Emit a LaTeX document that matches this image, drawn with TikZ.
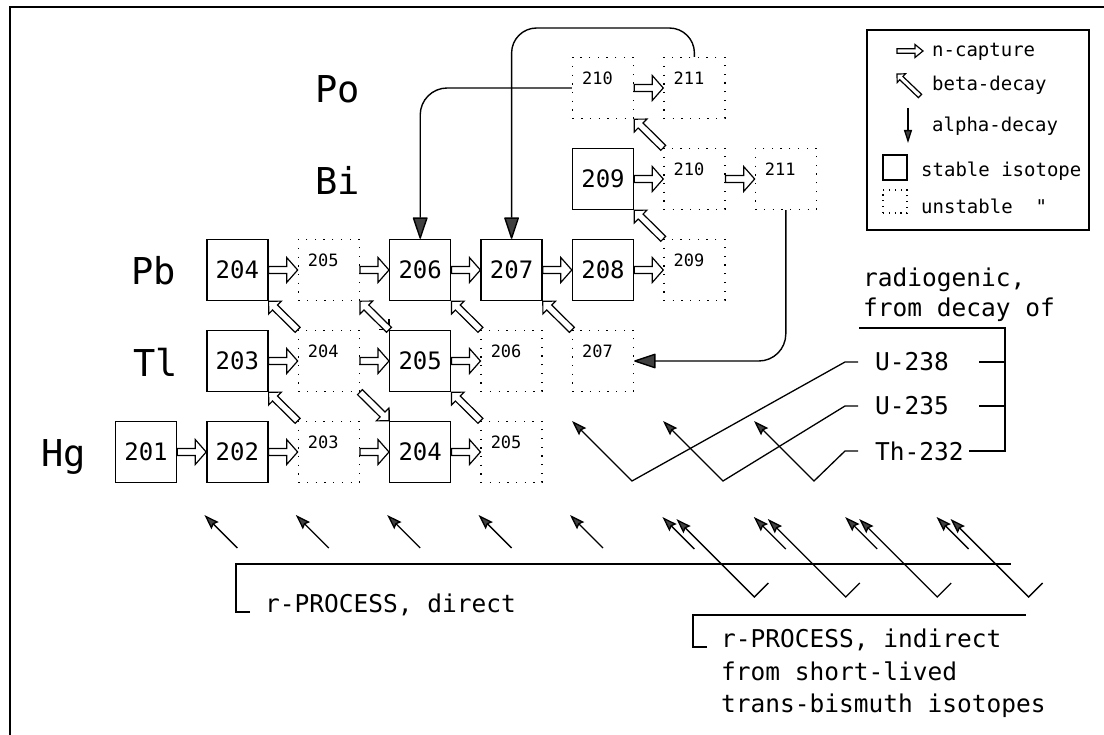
\documentclass[tikz,border=0pt]{standalone}
\usepackage{fontspec}
\newfontfamily\mono{DejaVu Sans Mono}
\usetikzlibrary{calc,arrows.meta}

\newcommand\blockarr[5]{%
  \path[barrow] let \p1=(#1), \p2=(#2),
    \n1={atan2(\y2-\y1,\x2-\x1)}, \n2={veclen(\x2-\x1,\y2-\y1)} in
    [shift={(\p1)}, rotate=\n1]
    (0,-#3) -- ({\n2-#5},-#3) -- ({\n2-#5},-#4) -- (\n2,0)
    -- ({\n2-#5},#4) -- ({\n2-#5},#3) -- (0,#3) -- cycle;}

\tikzset{
  sbox/.style={draw, line width=1.4pt, minimum size=61pt, inner sep=0pt,
    font=\mono\fontsize{24}{28}\selectfont},
  ubox/.style={draw, line width=1.3pt, dash pattern=on 1.3pt off 7.4pt,
    minimum size=61pt, inner sep=0pt},
  utxt/.style={font=\mono\fontsize{17}{20}\selectfont, inner sep=0pt},
  elem/.style={font=\mono\fontsize{37}{40}\selectfont, anchor=base west, inner sep=0pt},
  barrow/.style={draw, fill=white, line width=1.2pt, line join=miter},
  alph/.style={draw, line width=1.4pt, rounded corners=27pt,
    -{Triangle[length=23pt,width=15pt,fill=black!75,round=false]}},
  rarr/.style={draw, line width=1.3pt,
    -{Stealth[length=15pt,width=10pt,inset=2pt,fill=black!75]}},
  txt/.style={font=\mono\fontsize{24.5}{28}\selectfont, anchor=base west, inner sep=0pt},
  lab/.style={font=\mono\fontsize{24.5}{28}\selectfont, anchor=west, inner xsep=17pt, inner ysep=0pt},
  legtxt/.style={font=\mono\fontsize{19}{22}\selectfont, anchor=base west, inner sep=0pt},
  plain/.style={draw, line width=1.3pt},
}

\begin{document}
\begin{tikzpicture}[x=1pt,y=-1pt]
\useasboundingbox (0,0) rectangle (1104,735);
\fill[white] (0,0) rectangle (1104,735);
% frame
\draw[line width=1.4pt] (1104,7) -- (10,7) -- (10,735);

% element labels
\node[elem] (Po) at (315,103) {Po};
\node[elem] (Bi) at (315,195) {Bi};
\node[elem] (Pb) at (131,285) {Pb};
\node[elem] (Tl) at (133,377) {Tl};
\node[elem] (Hg) at (41,467) {Hg};

% Hg row
\node[sbox] (Hg201) at (146,452) {201};
\node[sbox] (Hg202) at (237.4,452) {202};
\node[ubox] (Hg203) at (328.8,452) {};
\node[sbox] (Hg204) at (420.2,452) {204};
\node[ubox] (Hg205) at (511.6,452) {};
% Tl row
\node[sbox] (Tl203) at (237.4,361) {203};
\node[ubox] (Tl204) at (328.8,361) {};
\node[sbox] (Tl205) at (420.2,361) {205};
\node[ubox] (Tl206) at (511.6,361) {};
\node[ubox] (Tl207) at (603,361) {};
% Pb row
\node[sbox] (Pb204) at (237.4,270) {204};
\node[ubox] (Pb205) at (328.8,270) {};
\node[sbox] (Pb206) at (420.2,270) {206};
\node[sbox] (Pb207) at (511.6,270) {207};
\node[sbox] (Pb208) at (603,270) {208};
\node[ubox] (Pb209) at (694.4,270) {};
% Bi row
\node[sbox] (Bi209) at (603,179) {209};
\node[ubox] (Bi210) at (694.4,179) {};
\node[ubox] (Bi211) at (785.8,179) {};
% Po row
\node[ubox] (Po210) at (603,88) {};
\node[ubox] (Po211) at (694.4,88) {};

% overshooting corner edges
\draw[plain] (Tl205.north west) -- ++(-10,0);
\draw[plain] (Tl205.north west) -- ++(0,-11);
\draw[plain] (Hg204.north west) -- ++(-10,0);
\draw[plain] (Hg204.north west) -- ++(0,-11);

% unstable labels
\foreach \n/\t in {Hg203/203,Hg205/205,Tl204/204,Tl206/206,Tl207/207,
  Pb205/205,Pb209/209,Bi210/210,Bi211/211,Po210/210,Po211/211}
  {\node[utxt] (\n t) at ($(\n)+(-5.5,-10)$) {\t};}

% n-capture arrows
\foreach \a/\b in {Hg201/Hg202,Hg202/Hg203,Hg203/Hg204,Hg204/Hg205,
  Tl203/Tl204,Tl204/Tl205,Tl205/Tl206,
  Pb204/Pb205,Pb205/Pb206,Pb206/Pb207,Pb207/Pb208,Pb208/Pb209,
  Bi209/Bi210,Bi210/Bi211,Po210/Po211}
  {\blockarr{\a.east}{\b.west}{3.5}{12.5}{11}}

% beta decays (up-left)
\foreach \a/\b in {Hg203/Tl203,Tl204/Pb204,Hg205/Tl205,Tl205/Pb205,Tl206/Pb206,
  Tl207/Pb207,Pb209/Bi209,Bi210/Po210}
  {\blockarr{\a.north west}{\b.south east}{3.5}{9}{9}}
% electron capture (down-right)
\blockarr{Tl204.south east}{Hg204.north west}{3.5}{9}{9}

% alpha decays
\coordinate (atop) at (600,28);
\draw[alph] (Po210.west) -| (Pb206.north);
\draw[alph, rounded corners=25pt] (Po211.north) |- (atop) -| (Pb207.north);
\draw[alph] (Bi211.south) |- (Tl207.east);

% legend
\node[draw, line width=1.3pt, minimum width=222pt, minimum height=200pt, inner sep=0pt] (legend) at (978,130) {};
\coordinate (ln1a) at (897,51); \coordinate (ln1b) at (923,51);
\blockarr{ln1a}{ln1b}{2.3}{6.5}{8}
\coordinate (lb1a) at (920,96); \coordinate (lb1b) at (897,74);
\blockarr{lb1a}{lb1b}{2.3}{6}{6}
\coordinate (la1a) at (908,108); \coordinate (la1b) at (908,143);
\draw[line width=1.3pt, -{Triangle[length=13pt,width=8pt,fill=black!75]}] (la1a) -- (la1b);
\node[draw, line width=1.3pt, minimum width=24pt, minimum height=25pt, inner sep=0pt] (lstab) at (895,167.5) {};
\node[draw, line width=1.2pt, dash pattern=on 1.2pt off 4.6pt, minimum width=24pt, minimum height=23pt, inner sep=0pt] (lunst) at (895,201.5) {};
\node[legtxt] (lt1) at (932,57) {n-capture};
\node[legtxt] (lt2) at (932,91) {beta-decay};
\node[legtxt] (lt3) at (932,132) {alpha-decay};
\node[legtxt] (lt4) at (921,177) {stable isotope};
\node[legtxt] (lt5) at (921,214) {unstable\ \ "};

% radiogenic
\node[txt] (rad1) at (863,287) {radiogenic,};
\node[txt] (rad2) at (863,317) {from decay of};
\node[lab] (U238) at (858,362) {U-238};
\node[lab] (U235) at (858,406) {U-235};
\node[lab] (Th232) at (858,451) {Th-232};
\draw[plain] (859,328) -- (1005,328) -- (1005,451) -- (969,451);
\draw[plain] (979,362) -- (1005,362);
\draw[plain] (979,406) -- (1005,406);
\coordinate (v1) at (632,481); \coordinate (t1) at (572,421);
\coordinate (v2) at (723,481); \coordinate (t2) at (663,421);
\coordinate (v3) at (814,481); \coordinate (t3) at (754,421);
\draw[rarr] (U238.west) -- ++(-13,0) -- (v1) -- (t1);
\draw[rarr] (U235.west) -- ++(-13,0) -- (v2) -- (t2);
\draw[rarr] (Th232.west) -- ++(-13,0) -- (v3) -- (t3);

% r-process direct
\foreach \c/\xx in {1/237.4,2/328.8,3/420.2,4/511.6,5/603} {
  \coordinate (db\c) at (\xx,548);
  \coordinate (dt\c) at (\xx-33,515);
  \draw[rarr] (db\c) -- (dt\c);
}
% r-process indirect
\foreach \c/\xx in {6/694.4,7/785.8,8/877.2,9/968.6} {
  \coordinate (sb\c) at (\xx,549);
  \coordinate (st\c) at (\xx-32,517);
  \draw[rarr] (sb\c) -- (st\c);
  \coordinate (lr\c) at (\xx+74,583);
  \coordinate (lv\c) at (\xx+60,597);
  \coordinate (lt\c) at (\xx-18,519);
  \draw[rarr] (lr\c) -- (lv\c) -- (lt\c);
}

\node[txt] (rdir) at (265,612) {r-PROCESS, direct};
\draw[plain] (250,612) -- (236,612) -- (236,564) -- (1011,564);
\node[txt] (rind1) at (721,647) {r-PROCESS, indirect};
\node[txt] (rind2) at (721,680) {from short-lived};
\node[txt] (rind3) at (721,712) {trans-bismuth isotopes};
\draw[plain] (707,647) -- (693,647) -- (693,615) -- (1026,615);
\end{tikzpicture}
\end{document}
